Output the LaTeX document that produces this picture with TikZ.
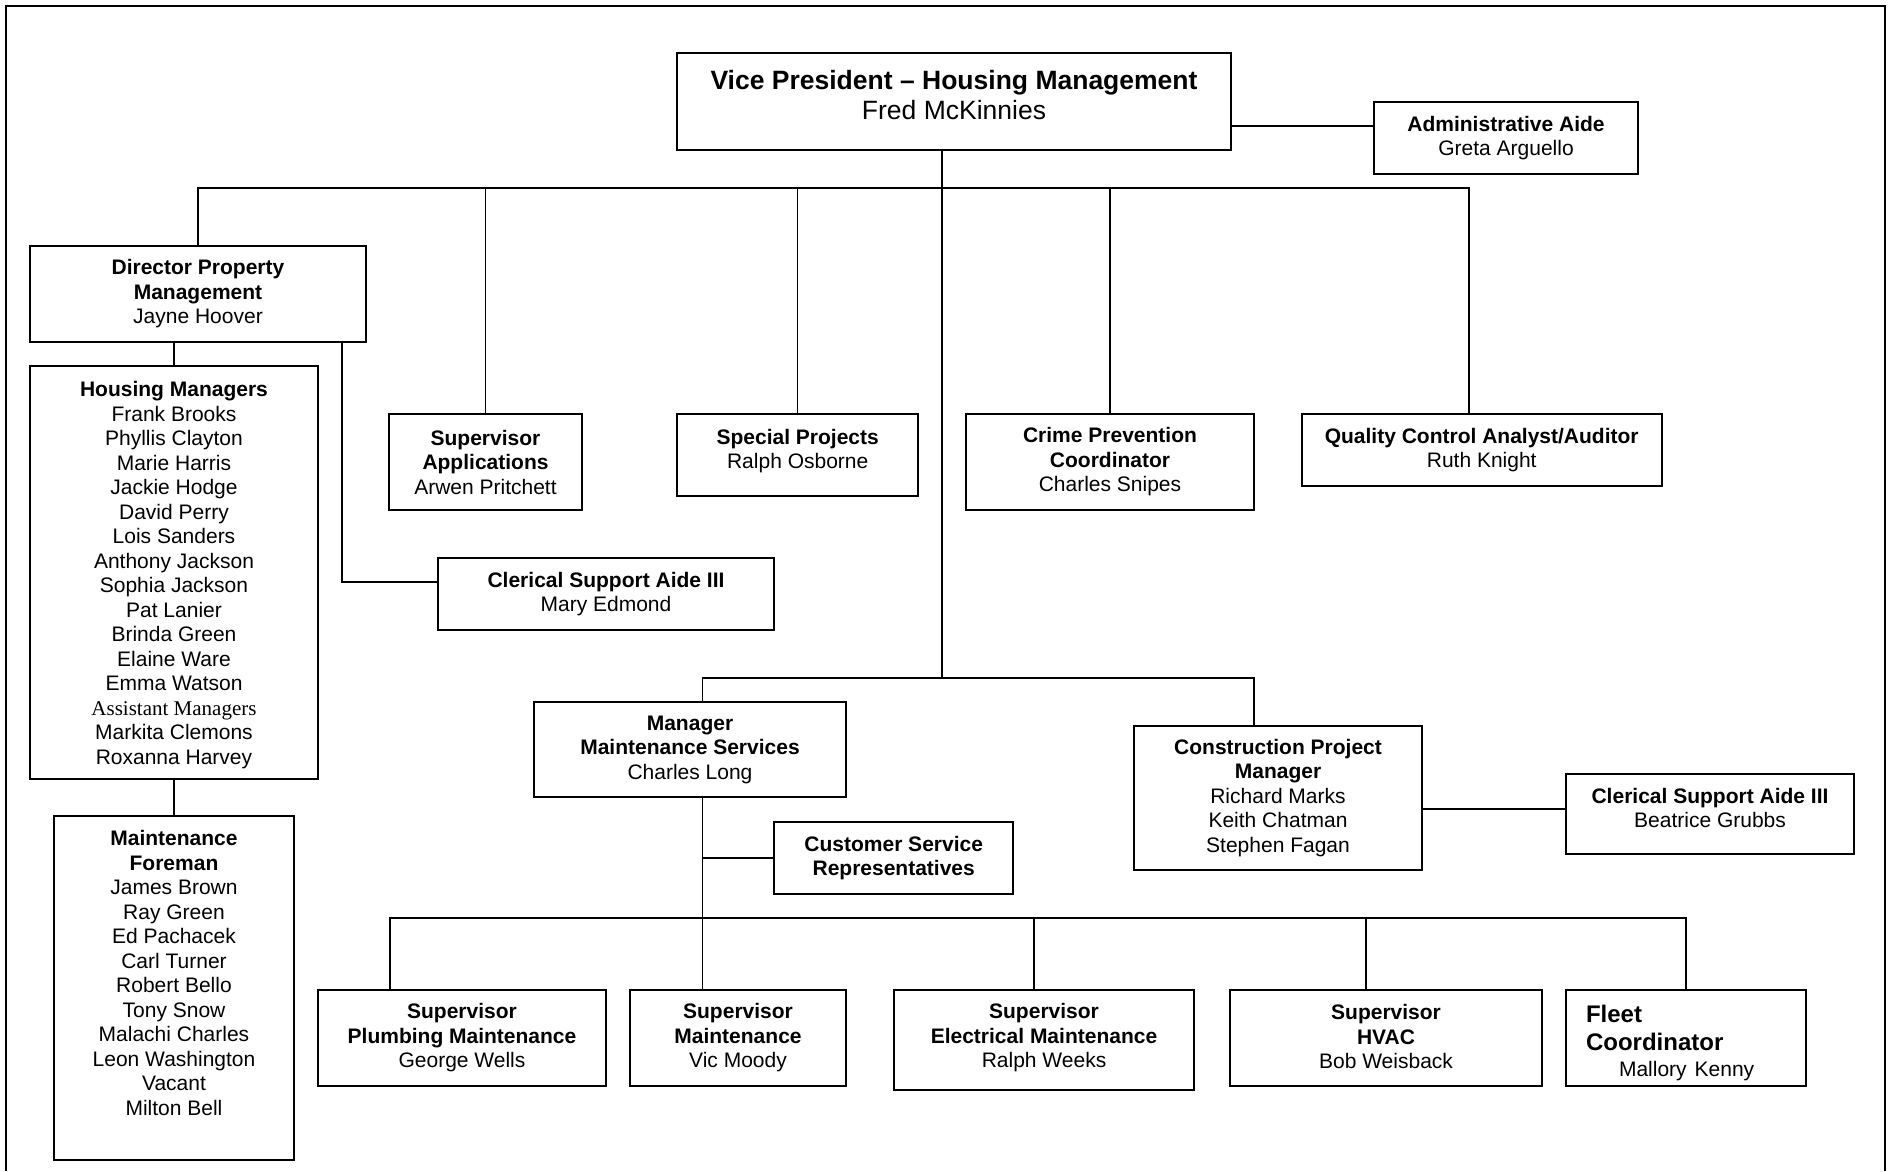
\documentclass[tikz,border=0pt]{standalone}
\usepackage{fontspec}
\setmainfont{Liberation Sans}
\newfontfamily\timesfont{Liberation Serif}
\usetikzlibrary{positioning}
\tikzset{
    org_box/.style={rectangle, draw=black, line width=2pt, inner sep=0pt, outer sep=0pt, text centered, align=center, font=\fontsize{21}{24.5}\selectfont},
    big_text/.style={font=\fontsize{26.5}{30}\selectfont},
    line/.style={line width=1.5pt},
    frame_line/.style={line width=2pt},
}
\begin{document}
\begin{tikzpicture}[x=1pt, y=-1pt]
            \useasboundingbox (0,0) rectangle (1902,1171);
            \draw [frame_line] (6,1171) -- (6,6) -- (1885,6) -- (1885,1171);

            %%%%%%%%%%%%%%%%%%
            % VICE PRESIDENT %
            %%%%%%%%%%%%%%%%%%
            \node (vp_head) [org_box, big_text, minimum width=554pt, minimum height=97pt] at (954,101.5)
                    {\textbf{Vice President -- Housing Management} \\ Fred McKinnies \\[-17pt] \mbox{}};
            \node (admin_aide) [org_box, minimum width=264pt, minimum height=72pt] at (1506,138)
                    {\textbf{Administrative Aide} \\ Greta Arguello};
            \coordinate (bus_top) at (942,188);
            \coordinate (bus_mid) at (942,678);
            \coordinate (bus_low) at (702.5,918);

            %%%%%%%%%%%%%%%%%%%%%%%%%%%
            % PROPERTY MANAGEMENT     %
            %%%%%%%%%%%%%%%%%%%%%%%%%%%
            \node (director_pm) [org_box, minimum width=336pt, minimum height=96pt] at (198,294)
                    {\textbf{Director Property} \\ \textbf{Management} \\ Jayne Hoover};
            \node (housing_mgrs) [org_box, minimum width=288pt, minimum height=413pt] at (174,572.5)
                    {\rule{0pt}{20pt}\textbf{Housing Managers} \\ Frank Brooks \\ Phyllis Clayton \\ Marie Harris \\
                     Jackie Hodge \\ David Perry \\ Lois Sanders \\ Anthony Jackson \\ Sophia Jackson \\
                     Pat Lanier \\ Brinda Green \\ Elaine Ware \\ Emma Watson \\
                     {\timesfont Assistant Managers} \\ Markita Clemons \\ Roxanna Harvey};
            \node (maint_foreman) [org_box, minimum width=240pt, minimum height=344pt] at (174,988)
                    {\textbf{Maintenance} \\ \textbf{Foreman} \\ James Brown \\ Ray Green \\ Ed Pachacek \\
                     Carl Turner \\ Robert Bello \\ Tony Snow \\ Malachi Charles \\ Leon Washington \\
                     Vacant \\ Milton Bell \\[6pt] \mbox{}};
            \node (clerk_mary) [org_box, minimum width=336pt, minimum height=72pt] at (606,594)
                    {\textbf{Clerical Support Aide III} \\ Mary Edmond};

            %%%%%%%%%%%%%%%%%%%%%%
            % STAFF UNDER VP     %
            %%%%%%%%%%%%%%%%%%%%%%
            \node (sup_apps) [org_box, minimum width=193pt, minimum height=96pt] at (485.5,462)
                    {\textbf{Supervisor} \\ \textbf{Applications} \\ Arwen Pritchett};
            \node (special_proj) [org_box, minimum width=240.5pt, minimum height=82pt] at (797.7,455)
                    {\textbf{Special Projects} \\ Ralph Osborne \\[-12pt] \mbox{}};
            \node (crime_prev) [org_box, minimum width=288pt, minimum height=96pt] at (1110,462)
                    {\textbf{Crime Prevention} \\ \textbf{Coordinator} \\ Charles Snipes};
            \node (qc_analyst) [org_box, minimum width=360pt, minimum height=72pt] at (1481.7,450)
                    {\textbf{Quality Control Analyst/Auditor} \\ Ruth Knight};

            %%%%%%%%%%%%%%%%%%%%%%%%%%
            % MAINTENANCE SERVICES   %
            %%%%%%%%%%%%%%%%%%%%%%%%%%
            \node (mgr_maint) [org_box, minimum width=312pt, minimum height=95pt] at (690,749.5)
                    {\textbf{Manager} \\ \textbf{Maintenance Services} \\ Charles Long};
            \node (cust_service) [org_box, minimum width=238.5pt, minimum height=72pt] at (893.7,858)
                    {\textbf{Customer Service} \\ \textbf{Representatives}};
            \node (constr_pm) [org_box, minimum width=288pt, minimum height=144pt] at (1278,798)
                    {\textbf{Construction Project} \\ \textbf{Manager} \\ Richard Marks \\ Keith Chatman \\ Stephen Fagan};
            \node (clerk_beatrice) [org_box, minimum width=288.5pt, minimum height=80pt] at (1710,814)
                    {\textbf{Clerical Support Aide III} \\ Beatrice Grubbs \\[-12pt] \mbox{}};

            \node (sup_plumbing) [org_box, minimum width=288pt, minimum height=96pt] at (462,1038)
                    {\textbf{Supervisor} \\ \textbf{Plumbing Maintenance} \\ George Wells};
            \node (sup_maint) [org_box, minimum width=216pt, minimum height=96pt, right=24pt of sup_plumbing]
                    {\textbf{Supervisor} \\ \textbf{Maintenance} \\ Vic Moody};
            \node (sup_electrical) [org_box, minimum width=300pt, minimum height=100pt, right=48pt of sup_maint, yshift=-2pt]
                    {\textbf{Supervisor} \\ \textbf{Electrical Maintenance} \\ Ralph Weeks \\[-16pt] \mbox{}};
            \node (sup_hvac) [org_box, minimum width=312pt, minimum height=96pt, right=36pt of sup_electrical, yshift=2pt]
                    {\textbf{Supervisor} \\ \textbf{HVAC} \\ Bob Weisback \\[-22pt] \mbox{}};
            \node (fleet_coord) [org_box, minimum width=240pt, minimum height=96pt, right=24pt of sup_hvac,
                    align=left, text width=200pt, inner xsep=20pt, font=\fontsize{24}{28}\selectfont]
                    {\rule{0pt}{28pt}\textbf{Fleet} \\ \textbf{Coordinator} \\[-2pt] {\fontsize{21}{24.5}\selectfont\hspace*{33pt}Mallory Kenny}};

            %%%%%%%%%%%%%%%
            % CONNECTORS  %
            %%%%%%%%%%%%%%%
            \draw [line, line width=2pt] ([yshift=-24.5pt]vp_head.east) -- ([yshift=-24.5pt]vp_head.east -| admin_aide.west);
            \draw [line] ([xshift=-12pt]vp_head.south) -- (bus_mid);
            \draw [line] (director_pm.north) |- ([xshift=-12.7pt]qc_analyst.north |- bus_top) -- ([xshift=-12.7pt]qc_analyst.north);
            \draw [line] (sup_apps.north) -- (sup_apps.north |- bus_top);
            \draw [line] (special_proj.north) -- (special_proj.north |- bus_top);
            \draw [line] (crime_prev.north) -- (crime_prev.north |- bus_top);

            \draw [line] (housing_mgrs.north) -- (housing_mgrs.north |- director_pm.south);
            \draw [line] (housing_mgrs.south) -- (maint_foreman.north);
            \draw [line] ([xshift=144pt]director_pm.south) |- ([yshift=12pt]clerk_mary.west);

            \draw [line] ([xshift=12.5pt]mgr_maint.north) |- (bus_mid) -| ([xshift=-24pt]constr_pm.north);
            \draw [line] ([yshift=-11pt]constr_pm.east) -- ([yshift=-11pt]constr_pm.east -| clerk_beatrice.west);
            \draw [line] ([xshift=12.5pt]mgr_maint.south) -- ([xshift=12.5pt]mgr_maint.south |- sup_maint.north);
            \draw [line] (cust_service.west) -- (cust_service.west -| bus_low);
            \draw [line] ([xshift=-72pt]sup_plumbing.north) |- (bus_low) -| (fleet_coord.north);
            \draw [line] ([xshift=-10pt]sup_electrical.north) -- ([xshift=-10pt]sup_electrical.north |- bus_low);
            \draw [line] ([xshift=-20pt]sup_hvac.north) -- ([xshift=-20pt]sup_hvac.north |- bus_low);
\end{tikzpicture}
\end{document}
